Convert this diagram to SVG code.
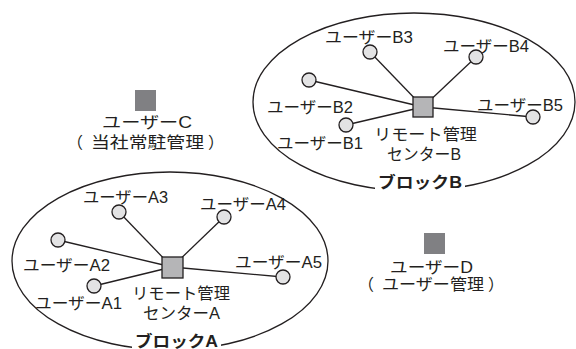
<svg xmlns="http://www.w3.org/2000/svg" width="576" height="349" viewBox="0 0 576 349">
<style>
.t{font-family:"Liberation Sans","Noto Sans CJK JP",sans-serif;font-size:16px;fill:#231f20}
.b{font-weight:bold}
.blk{fill:none;stroke:#231f20;stroke-width:1.3}
.bg{fill:#fff}
.ln{stroke:#231f20;stroke-width:1.3}
.u{fill:#e3e3e4;stroke:#231f20;stroke-width:1.3}
.c{fill:#b5b5b7;stroke:#231f20;stroke-width:1.3}
.s{fill:#808083}
</style>
<rect width="576" height="349" fill="#fff"/>
<g id="blockB">
<ellipse class="blk" cx="414" cy="102" rx="161" ry="89"/>
<rect class="bg" x="375" y="174" width="90" height="20"/>
<text class="t b" x="378" y="188" textLength="84" lengthAdjust="spacingAndGlyphs">ブロックB</text>
</g>
<g id="blockA">
<ellipse class="blk" cx="170" cy="261" rx="158" ry="89"/>
<rect class="bg" x="132" y="333" width="89" height="16"/>
<text class="t b" x="135" y="347" textLength="83" lengthAdjust="spacingAndGlyphs">ブロックA</text>
</g>
<g id="connectors">
<line class="ln" x1="423" y1="107" x2="370" y2="52"/>
<line class="ln" x1="423" y1="107" x2="476" y2="57"/>
<line class="ln" x1="423" y1="107" x2="309" y2="80"/>
<line class="ln" x1="423" y1="107" x2="346" y2="125"/>
<line class="ln" x1="423" y1="107" x2="533" y2="117"/>
<line class="ln" x1="172" y1="267" x2="119" y2="212"/>
<line class="ln" x1="172" y1="267" x2="224" y2="217"/>
<line class="ln" x1="172" y1="267" x2="58" y2="240"/>
<line class="ln" x1="172" y1="267" x2="94" y2="286"/>
<line class="ln" x1="172" y1="267" x2="283" y2="277"/>
</g>
<g id="centerB">
<rect class="c" x="413" y="97" width="20" height="20"/>
<text class="t" x="374" y="140" textLength="103" lengthAdjust="spacingAndGlyphs">リモート管理</text>
<text class="t" x="387" y="160" textLength="74" lengthAdjust="spacingAndGlyphs">センターB</text>
</g>
<g id="userB1"><circle class="u" cx="346" cy="125" r="7"/><text class="t" x="277" y="149" textLength="86" lengthAdjust="spacingAndGlyphs">ユーザーB1</text></g>
<g id="userB2"><circle class="u" cx="309" cy="80" r="7"/><text class="t" x="267" y="113" textLength="86" lengthAdjust="spacingAndGlyphs">ユーザーB2</text></g>
<g id="userB3"><circle class="u" cx="370" cy="52" r="7"/><text class="t" x="325" y="43" textLength="88" lengthAdjust="spacingAndGlyphs">ユーザーB3</text></g>
<g id="userB4"><circle class="u" cx="476" cy="57" r="7"/><text class="t" x="443" y="52" textLength="86" lengthAdjust="spacingAndGlyphs">ユーザーB4</text></g>
<g id="userB5"><circle class="u" cx="533" cy="117" r="7"/><text class="t" x="477" y="111" textLength="86" lengthAdjust="spacingAndGlyphs">ユーザーB5</text></g>
<g id="centerA">
<rect class="c" x="162" y="257" width="21" height="21"/>
<text class="t" x="132" y="299" textLength="98" lengthAdjust="spacingAndGlyphs">リモート管理</text>
<text class="t" x="143" y="319" textLength="77" lengthAdjust="spacingAndGlyphs">センターA</text>
</g>
<g id="userA1"><circle class="u" cx="94" cy="286" r="7"/><text class="t" x="35" y="309" textLength="87" lengthAdjust="spacingAndGlyphs">ユーザーA1</text></g>
<g id="userA2"><circle class="u" cx="58" cy="240" r="7"/><text class="t" x="23" y="271" textLength="87" lengthAdjust="spacingAndGlyphs">ユーザーA2</text></g>
<g id="userA3"><circle class="u" cx="119" cy="212" r="7"/><text class="t" x="83" y="203" textLength="85" lengthAdjust="spacingAndGlyphs">ユーザーA3</text></g>
<g id="userA4"><circle class="u" cx="224" cy="217" r="7"/><text class="t" x="200" y="210" textLength="86" lengthAdjust="spacingAndGlyphs">ユーザーA4</text></g>
<g id="userA5"><circle class="u" cx="283" cy="277" r="7"/><text class="t" x="235" y="268" textLength="87" lengthAdjust="spacingAndGlyphs">ユーザーA5</text></g>
<g id="userC">
<rect class="s" x="135" y="90" width="21" height="21"/>
<text class="t" x="102" y="128" textLength="90" lengthAdjust="spacingAndGlyphs">ユーザーC</text>
<text class="t" y="148"><tspan x="67">（</tspan><tspan x="91" textLength="113" lengthAdjust="spacingAndGlyphs">当社常駐管理</tspan><tspan x="208">）</tspan></text>
</g>
<g id="userD">
<rect class="s" x="424" y="233" width="21" height="21"/>
<text class="t" x="390" y="273" textLength="83" lengthAdjust="spacingAndGlyphs">ユーザーD</text>
<text class="t" y="290"><tspan x="358">（</tspan><tspan x="382" textLength="102" lengthAdjust="spacingAndGlyphs">ユーザー管理</tspan><tspan x="488">）</tspan></text>
</g>
</svg>
